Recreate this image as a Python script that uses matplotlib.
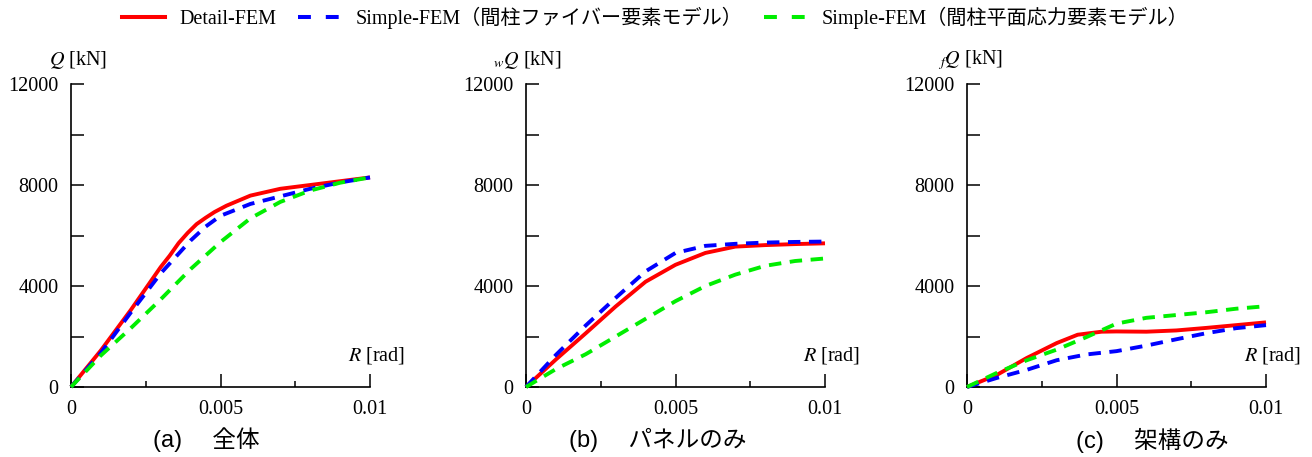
import matplotlib
matplotlib.use("Agg")
import matplotlib.pyplot as plt
from matplotlib.ticker import MultipleLocator, FuncFormatter
from matplotlib.lines import Line2D

plt.rcParams["font.family"] = ["Liberation Serif", "Noto Sans CJK JP"]
plt.rcParams["mathtext.fontset"] = "stix"

# (a) whole frame
R_a_d = [0, 0.001, 0.002, 0.003, 0.0033, 0.0036, 0.0039, 0.0042, 0.0045, 0.0048,
         0.0052, 0.006, 0.007, 0.008, 0.009, 0.01]
Qa_detail = [0, 1450, 3050, 4750, 5200, 5700, 6100, 6450, 6700, 6930,
             7180, 7580, 7850, 8000, 8150, 8300]
R_a = [0, 0.001, 0.002, 0.003, 0.0035, 0.004, 0.0045, 0.005, 0.006, 0.007, 0.008, 0.009, 0.01]
Qa_fiber = [0, 1350, 2950, 4500, 5150, 5800, 6350, 6780, 7250, 7550, 7850, 8100, 8300]
R_a_g = [0, 0.001, 0.002, 0.003, 0.004, 0.005, 0.006, 0.007, 0.008, 0.009, 0.01]
Qa_plane = [0, 1250, 2330, 3470, 4670, 5740, 6680, 7330, 7780, 8090, 8300]

# (b) panel only
R_b = [0, 0.001, 0.002, 0.003, 0.004, 0.005, 0.006, 0.007, 0.008, 0.009, 0.01]
Qb_detail = [0, 1090, 2130, 3190, 4170, 4840, 5310, 5560, 5620, 5660, 5690]
Qb_fiber = [0, 1270, 2440, 3530, 4580, 5310, 5590, 5670, 5720, 5745, 5760]
Qb_plane = [0, 710, 1300, 2000, 2700, 3400, 4000, 4450, 4800, 4990, 5090]

# (c) frame only
R_c_d = [0, 0.001, 0.002, 0.003, 0.0037, 0.0045, 0.005, 0.006, 0.007, 0.008, 0.009, 0.01]
Qc_detail = [0, 480, 1150, 1740, 2070, 2190, 2200, 2190, 2240, 2340, 2450, 2560]
R_c = [0, 0.001, 0.002, 0.003, 0.004, 0.005, 0.006, 0.007, 0.008, 0.009, 0.01]
Qc_fiber = [0, 360, 680, 1060, 1290, 1420, 1640, 1890, 2130, 2330, 2450]
Qc_plane = [0, 560, 1060, 1480, 1980, 2510, 2740, 2850, 2960, 3100, 3200]

LABELS = ["Detail-FEM",
          "Simple-FEM（間柱ファイバー要素モデル）",
          "Simple-FEM（間柱平面応力要素モデル）"]
COLORS = ["#FF0000", "#0000FF", "#00EE00"]

PANELS = [
    ((R_a_d, Qa_detail), (R_a, Qa_fiber), (R_a_g, Qa_plane), r"$Q$ [kN]", "(a)\u3000 全体"),
    ((R_b, Qb_detail), (R_b, Qb_fiber), (R_b, Qb_plane), r"${}_{w}Q$ [kN]", "(b)\u3000 パネルのみ"),
    ((R_c_d, Qc_detail), (R_c, Qc_fiber), (R_c, Qc_plane), r"${}_{f}Q$ [kN]", "(c)\u3000 架構のみ"),
]
LEFTS = [71, 526, 967]
CAP_X = [153, 569, 1076]

W, H = 1312, 457
fig = plt.figure(figsize=(W / 100, H / 100), dpi=100)

for (det, fib, pla, ylab, cap), left, cx in zip(PANELS, LEFTS, CAP_X):
    ax = fig.add_axes([left / W, (H - 387) / H, 299 / W, 303 / H])
    ax.plot(*det, color=COLORS[0], lw=2.8, solid_capstyle="butt", clip_on=False, zorder=3)
    ax.plot(*fib, color=COLORS[1], lw=2.8, dashes=(3.2, 2.2), clip_on=False, zorder=4)
    ax.plot(*pla, color=COLORS[2], lw=2.8, dashes=(3.2, 2.2), clip_on=False, zorder=5)
    ax.set_xlim(0, 0.01)
    ax.set_ylim(0, 12000)
    for s in ("top", "right"):
        ax.spines[s].set_visible(False)
    for s in ("left", "bottom"):
        ax.spines[s].set_linewidth(1.2)
    ax.xaxis.set_major_locator(MultipleLocator(0.005))
    ax.xaxis.set_minor_locator(MultipleLocator(0.0025))
    ax.xaxis.set_major_formatter(FuncFormatter(lambda v, p: "%g" % v))
    ax.yaxis.set_major_locator(MultipleLocator(2000))
    ax.yaxis.set_major_formatter(
        FuncFormatter(lambda v, p: "%d" % v if round(v) % 4000 == 0 else ""))
    ax.tick_params(which="major", direction="in", length=9.5, width=1.1,
                   labelsize=14.5, pad=9)
    ax.tick_params(which="minor", direction="in", length=4.5, width=1.1)
    ax.text(0.12, 1.08, ylab, transform=ax.transAxes, ha="right", va="center",
            fontsize=14.5)
    ax.text(1.117, 0.105, r"$R$ [rad]", transform=ax.transAxes, ha="right",
            va="center", fontsize=14.5)
    fig.text(cx / W, 1 - 440 / H, cap, ha="left", va="center", fontsize=17,
             family=["Liberation Sans", "Noto Sans CJK JP"])

handles = [Line2D([], [], color=COLORS[0], lw=2.9),
           Line2D([], [], color=COLORS[1], lw=2.9, dashes=(3.2, 3.7)),
           Line2D([], [], color=COLORS[2], lw=2.9, dashes=(3.2, 3.7))]
fig.legend(handles, LABELS, loc="center", bbox_to_anchor=(655 / W, 1 - 18 / H),
           ncol=3, frameon=False, fontsize=14.5, handlelength=2.15,
           columnspacing=1.05, handletextpad=0.72)

fig.savefig("out.png", dpi=100)
